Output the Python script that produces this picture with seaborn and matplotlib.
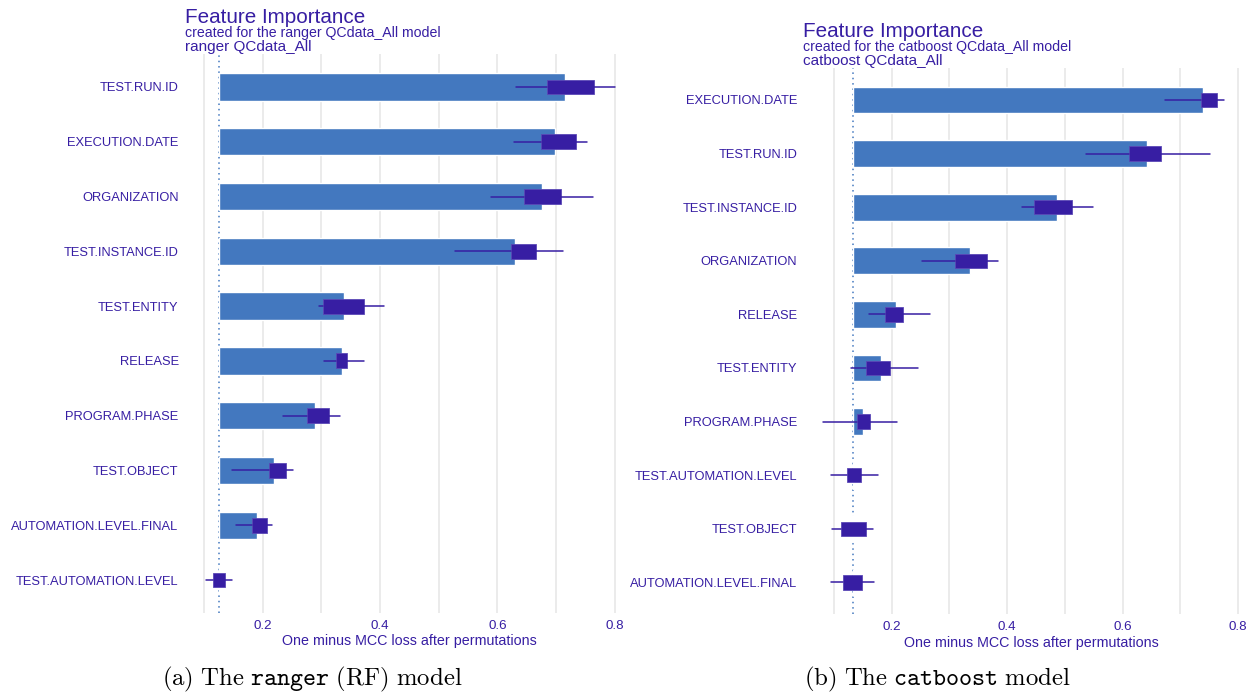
import numpy as np
import pandas as pd
import matplotlib
matplotlib.use('Agg')
import matplotlib.pyplot as plt
import seaborn as sns

sns.set_style('white')
plt.rcParams['font.family'] = ['Liberation Sans', 'DejaVu Sans']
plt.rcParams['mathtext.fontset'] = 'cm'

TXT = '#371ea3'
BAR = '#4378bf'
GRID = '#e5e5e5'

# ranger (RF) model
features_rf = ['TEST.RUN.ID', 'EXECUTION.DATE', 'ORGANIZATION', 'TEST.INSTANCE.ID',
               'TEST.ENTITY', 'RELEASE', 'PROGRAM.PHASE', 'TEST.OBJECT',
               'AUTOMATION.LEVEL.FINAL', 'TEST.AUTOMATION.LEVEL']
mean_rf = [0.716, 0.698, 0.676, 0.630, 0.338, 0.335, 0.290, 0.219, 0.190, 0.126]
q1_rf = [0.685, 0.674, 0.646, 0.623, 0.303, 0.325, 0.276, 0.210, 0.182, 0.115]
med_rf = [0.725, 0.704, 0.678, 0.644, 0.338, 0.334, 0.294, 0.225, 0.195, 0.125]
q3_rf = [0.765, 0.734, 0.709, 0.665, 0.373, 0.343, 0.313, 0.240, 0.208, 0.136]
min_rf = [0.631, 0.629, 0.589, 0.527, 0.296, 0.305, 0.235, 0.148, 0.155, 0.103]
max_rf = [0.801, 0.752, 0.763, 0.712, 0.406, 0.372, 0.331, 0.251, 0.216, 0.147]
base_rf = 0.1256

# catboost model
features_cb = ['EXECUTION.DATE', 'TEST.RUN.ID', 'TEST.INSTANCE.ID', 'ORGANIZATION',
               'RELEASE', 'TEST.ENTITY', 'PROGRAM.PHASE', 'TEST.AUTOMATION.LEVEL',
               'TEST.OBJECT', 'AUTOMATION.LEVEL.FINAL']
mean_cb = [0.740, 0.642, 0.486, 0.336, 0.207, 0.181, 0.150, 0.1345, 0.132, 0.1325]
q1_cb = [0.736, 0.612, 0.447, 0.310, 0.188, 0.156, 0.140, 0.123, 0.112, 0.116]
med_cb = [0.750, 0.640, 0.480, 0.338, 0.204, 0.176, 0.151, 0.135, 0.134, 0.132]
q3_cb = [0.763, 0.666, 0.513, 0.365, 0.220, 0.197, 0.162, 0.147, 0.156, 0.148]
min_cb = [0.674, 0.536, 0.426, 0.253, 0.161, 0.130, 0.081, 0.095, 0.097, 0.095]
max_cb = [0.775, 0.751, 0.549, 0.385, 0.266, 0.245, 0.209, 0.176, 0.167, 0.169]
base_cb = 0.1335


def panel(ax, feats, mean, q1, med, q3, lo, hi, base, xlim):
    df = pd.DataFrame({'variable': feats, 'gain': np.array(mean) - base})
    sns.barplot(data=df, x='gain', y='variable', left=base, color=BAR,
                saturation=1, width=0.5, errorbar=None, ax=ax, zorder=2)
    ax.axvline(base, color=BAR, ls=(0, (1, 2.5)), lw=1.1, zorder=1)
    stats = [dict(med=m, q1=a, q3=b, whislo=l, whishi=h)
             for m, a, b, l, h in zip(med, q1, q3, lo, hi)]
    ax.bxp(stats, positions=range(len(feats)), widths=0.27, orientation='horizontal',
           patch_artist=True, showcaps=False, showfliers=False, manage_ticks=False,
           boxprops=dict(facecolor=TXT, edgecolor='#5b48b6', linewidth=0.6),
           whiskerprops=dict(color=TXT, linewidth=1.1),
           medianprops=dict(color=TXT, linewidth=0), zorder=3)
    ax.set_xlim(*xlim)
    ax.set_ylim(len(feats) - 0.4, -0.6)
    ax.set_xticks([0.2, 0.4, 0.6, 0.8])
    ax.set_xticklabels(['0.2', '0.4', '0.6', '0.8'])
    ax.set_xticks([0.1, 0.3, 0.5, 0.7], minor=True)
    ax.grid(axis='x', which='both', color=GRID, lw=1.1)
    ax.grid(axis='y', visible=False)
    ax.set_axisbelow(True)
    ax.tick_params(axis='both', which='both', length=0, colors=TXT)
    ax.tick_params(axis='y', labelsize=9.3, pad=14)
    ax.tick_params(axis='x', labelsize=9.6, pad=5)
    ax.set_ylabel('')
    ax.set_xlabel('One minus MCC loss after permutations', color=TXT, fontsize=10.3, labelpad=1.5)
    sns.despine(ax=ax, left=True, bottom=True)


fig = plt.figure(figsize=(12.55, 6.96), dpi=100)
ax1 = fig.add_axes([0.15785, 0.11940, 0.33665, 0.80287])
ax2 = fig.add_axes([0.65076, 0.11710, 0.34255, 0.78549])

panel(ax1, features_rf, mean_rf, q1_rf, med_rf, q3_rf, min_rf, max_rf, base_rf, (0.09, 0.81))
panel(ax2, features_cb, mean_cb, q1_cb, med_cb, q3_cb, min_cb, max_cb, base_cb, (0.07, 0.815))

H = 696.0
W = 1255.0
for x0, y0, model in [(185, 22.7, 'ranger'), (803, 36.7, 'catboost')]:
    fig.text(x0 / W, 1 - y0 / H, 'Feature Importance', color=TXT, fontsize=14.9, va='baseline')
    fig.text(x0 / W, 1 - (y0 + 14.5) / H, 'created for the %s QCdata_All model' % model,
             color=TXT, fontsize=10.2, va='baseline')
    fig.text(x0 / W, 1 - (y0 + 28.5) / H, '%s QCdata_All' % model,
             color=TXT, fontsize=11, va='baseline')

fig.text(312 / W, 1 - 685 / H, r'$\mathrm{(a)\ The\ }\mathtt{ranger}\mathrm{\ (RF)\ model}$',
         ha='center', va='baseline', fontsize=17.8, color='black')
fig.text(938 / W, 1 - 685 / H, r'$\mathrm{(b)\ The\ }\mathtt{catboost}\mathrm{\ model}$',
         ha='center', va='baseline', fontsize=17.8, color='black')

fig.savefig('out.png', dpi=100, facecolor='white')
